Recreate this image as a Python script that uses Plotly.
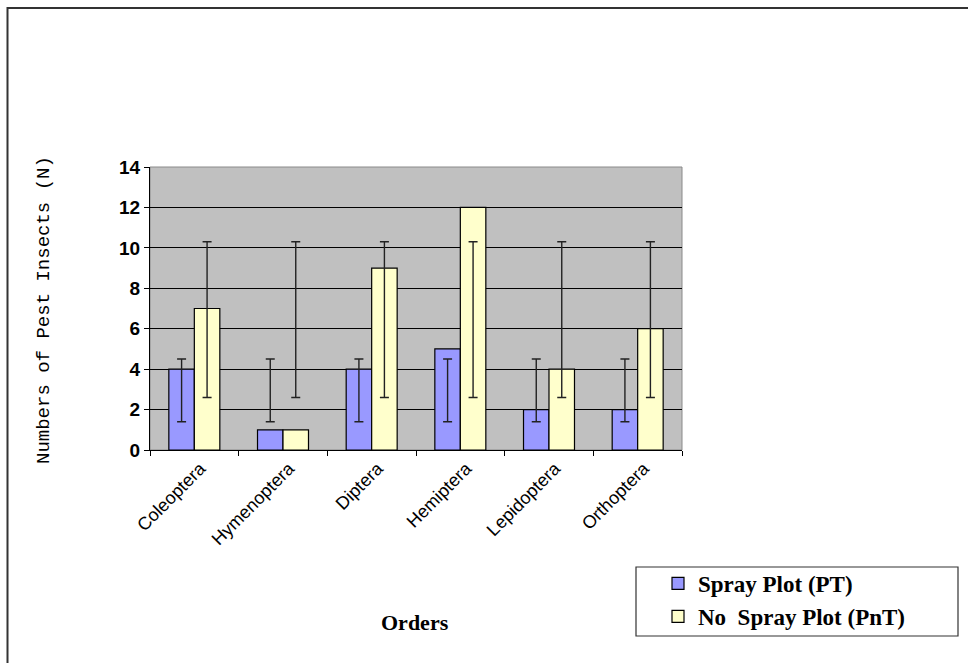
import plotly.graph_objects as go

orders = ["Coleoptera", "Hymenoptera", "Diptera", "Hemiptera", "Lepidoptera", "Orthoptera"]
spray = [4, 1, 4, 5, 2, 2]
no_spray = [7, 1, 9, 12, 4, 6]
# error bars (same range at every category)
spray_err_center = [2.95] * 6
spray_err_half = [1.55] * 6
nospray_err_center = [6.45] * 6
nospray_err_half = [3.85] * 6
y_ticks = [0, 2, 4, 6, 8, 10, 12, 14]

W, H = 968, 663
L, R, T, B = 150, 682, 167, 450

fig = go.Figure()
fig.add_trace(go.Bar(x=orders, y=spray, name="Spray Plot (PT)", offsetgroup="a",
                     marker=dict(color="#9999FF", line=dict(color="black", width=1.2))))
fig.add_trace(go.Bar(x=orders, y=no_spray, name="No  Spray Plot (PnT)", offsetgroup="b",
                     marker=dict(color="#FFFFCC", line=dict(color="black", width=1.2))))
fig.add_trace(go.Bar(x=orders, y=spray_err_center, offsetgroup="a", showlegend=False,
                     marker=dict(color="rgba(0,0,0,0)", line=dict(width=0)), hoverinfo="skip",
                     error_y=dict(type="data", array=spray_err_half, color="#222", thickness=1.4, width=4.5)))
fig.add_trace(go.Bar(x=orders, y=nospray_err_center, offsetgroup="b", showlegend=False,
                     marker=dict(color="rgba(0,0,0,0)", line=dict(width=0)), hoverinfo="skip",
                     error_y=dict(type="data", array=nospray_err_half, color="#222", thickness=1.4, width=4.5)))

def px(x):
    return (x - L) / (R - L)

def py(y):
    return (B - y) / (B - T)

fig.update_layout(
    width=W, height=H,
    margin=dict(l=L, r=W - R, t=T, b=H - B, pad=0),
    paper_bgcolor="white", plot_bgcolor="#C0C0C0",
    barmode="group", bargap=0.425, bargroupgap=0,
    showlegend=True,
    legend=dict(x=px(658), y=py(562), xanchor="left", yanchor="top",
                bgcolor="rgba(0,0,0,0)", borderwidth=0,
                font=dict(family="Liberation Serif", size=23, color="black", weight="bold"),
                itemwidth=30, traceorder="normal"),
    xaxis=dict(showgrid=False, showline=True, linecolor="black", linewidth=1,
               ticks="outside", tickson="boundaries", ticklen=5, tickcolor="black",
               tickangle=-45, ticklabelshift=6,
               tickfont=dict(family="Arial", size=18, color="black")),
    yaxis=dict(range=[0, 14], tickvals=y_ticks, showgrid=True, gridcolor="black", gridwidth=1.2,
               showline=True, linecolor="black", linewidth=1, ticks="outside", ticklen=5,
               tickcolor="black", zeroline=False,
               tickfont=dict(family="Arial", size=19, color="black", weight="bold")),
    font=dict(family="Arial", color="black"),
)

# plot area border (grey)
fig.add_shape(type="rect", xref="paper", yref="paper", x0=0, y0=0, x1=1, y1=1,
              line=dict(color="#8a8a8a", width=1), layer="below")
# legend box
fig.add_shape(type="rect", xref="paper", yref="paper", x0=px(636), y0=py(636), x1=px(958), y1=py(567),
              line=dict(color="#333333", width=1.2), fillcolor="white", layer="below")
# outer chart border (left and top visible; right/bottom run off the picture)
fig.add_shape(type="rect", xref="paper", yref="paper", x0=px(7.5), y0=py(700), x1=px(1000), y1=py(8),
              line=dict(color="#333333", width=2))

fig.add_annotation(xref="paper", yref="paper", x=px(44), y=py(310), xanchor="center", yanchor="middle",
                   text="Numbers of Pest Insects (N)", textangle=-90, showarrow=False,
                   font=dict(family="Liberation Mono", size=19, color="black"))
fig.add_annotation(xref="paper", yref="paper", x=px(415), y=py(622), xanchor="center", yanchor="middle",
                   text="<b>Orders</b>", showarrow=False,
                   font=dict(family="Liberation Serif", size=22, color="black"))

fig.write_html("out.html", config={"displayModeBar": False},
               post_script="document.body.style.margin='0px';")
